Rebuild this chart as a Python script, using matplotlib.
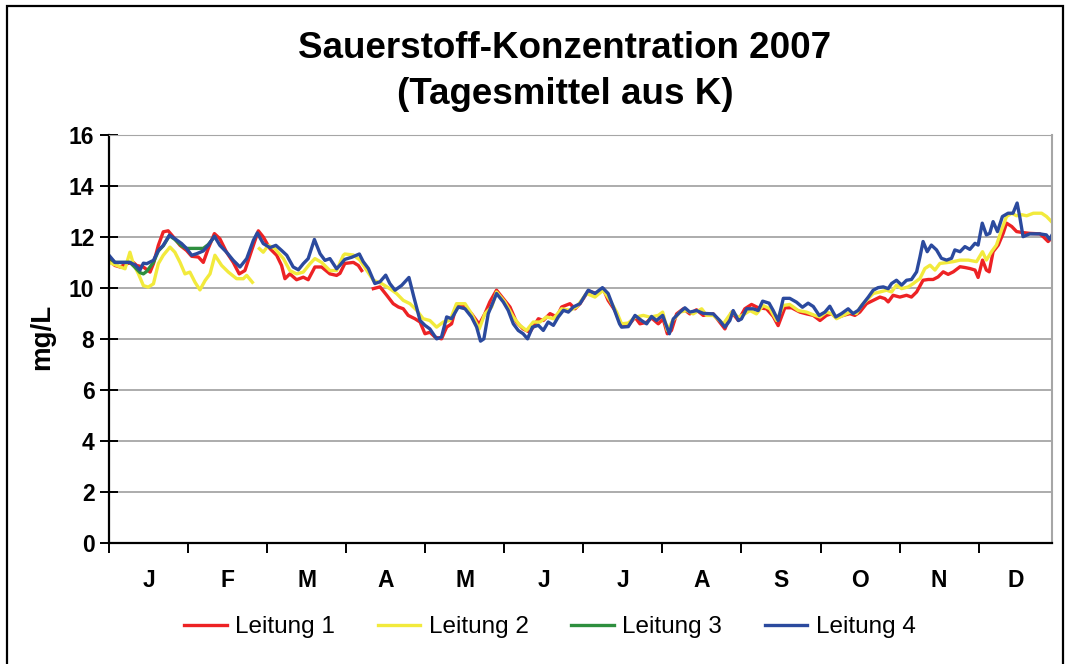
import numpy as np
import matplotlib
matplotlib.use("Agg")
import matplotlib.pyplot as plt
from matplotlib.patches import Rectangle

plt.rcParams['font.family'] = ['Liberation Sans', 'DejaVu Sans']

# Tagesmittel (Tag des Jahres, mg/L); nan = Datenluecke
l1_days = [0, 2.3, 4.3, 6.8, 9.4, 10.7, 13.3, 15.9, 17.2, 19.1, 21.0, 22.9, 24.9, 27.5, 30.0, 32.0, 34.6,
           36.5, 38.4, 40.8, 42.9, 45.5, 48.1, 50.4, 52.6, 55.2, 57.8, 59.7, 62.3, 64.9, 66.8, 68.1, 70.0,
           72.6, 75.2, 77.1, 79.7, 82.3, 85.5, 88.1, 89.4, 91.3, 94.6, 96.5, 97.8, 100.0,
           102.3, 104.9, 107.5, 110.0, 112.0, 113.9, 115.8, 118.4, 120.4, 122.3, 124.2, 126.2, 128.7,
           130.7, 132.6, 134.5, 137.1, 140.3, 143.3, 145.5, 147.4, 150.0, 152.6, 155.2, 157.7, 160.3,
           162.9, 166.2, 168.1, 170.7, 173.3, 175.2, 178.4, 180.4, 182.3, 185.5, 188.7, 191.3, 193.2,
           195.8, 198.4, 201.0, 203.6, 205.5, 208.1, 210.0, 212.6, 214.5, 216.1, 217.7, 219.7, 222.3,
           224.8, 227.4, 230.0, 233.9, 236.4, 238.4, 241.0, 243.6, 246.1, 248.7, 251.3, 254.5, 257.1,
           259.0, 261.6, 264.2, 267.4, 270.0, 272.6, 275.2, 277.7, 279.7, 281.6, 284.2, 286.8, 288.7,
           290.6, 293.2, 295.8, 298.4, 300.3, 301.6, 303.5, 306.1, 308.7, 310.6, 312.6, 315.1, 317.1,
           319.0, 320.9, 322.9, 324.8, 326.8, 329.4, 331.3, 333.2, 335.2, 336.4, 338.1, 339.6, 340.7,
           342.2, 344.2, 346.1, 347.4, 349.4, 351.3, 353.8, 356.4, 360.3, 361.6, 363.5, 364.8]
l1_vals = [11.08, 10.88, 10.82, 10.95, 11.0, 10.88, 10.82, 10.62, 10.95, 11.67, 12.2, 12.24, 12.0, 11.67,
           11.47, 11.24, 11.21, 11.0, 11.54, 12.13, 11.93, 11.4, 11.0, 10.55, 10.68, 11.47, 12.24, 12.0,
           11.54, 11.28, 10.88, 10.36, 10.55, 10.32, 10.42, 10.32, 10.82, 10.82, 10.55, 10.49, 10.57,
           10.96, 11.0, 10.88, 10.68, np.nan,
           9.97, 10.04, 9.71, 9.38, 9.25, 9.18, 8.92, 8.79, 8.66, 8.2, 8.26, 8.07, 8.0,
           8.46, 8.59, 9.32, 9.32, 8.99, 8.57, 8.99, 9.45, 9.91, 9.58, 9.25, 8.66, 8.39,
           8.26, 8.79, 8.72, 8.99, 8.86, 9.25, 9.38, 9.18, 9.38, 9.88, 9.78, 9.97, 9.51,
           9.12, 8.52, 8.52, 8.85, 8.59, 8.65, 8.82, 8.59, 8.78, 8.2, 8.33, 8.98, 9.18,
           8.98, 9.14, 8.92, 8.98, 8.65, 8.39, 9.05, 8.72, 9.18, 9.35, 9.22, 9.18, 8.88,
           8.52, 9.22, 9.22, 9.05, 8.98, 8.92, 8.72, 8.92, 8.99, 8.83, 8.92, 8.99, 8.92,
           9.05, 9.38, 9.51, 9.64, 9.58, 9.45, 9.71, 9.64, 9.71, 9.64, 9.84, 10.3, 10.33,
           10.33, 10.43, 10.63, 10.53, 10.63, 10.83, 10.8, 10.76, 10.7, 10.41, 11.09, 10.7, 10.63,
           11.42, 11.68, 12.14, 12.54, 12.41, 12.21, 12.17, 12.14, 12.12, 12.01, 11.82, 11.95]

l2_days = [0, 3.0, 6.2, 8.1, 9.4, 11.4, 13.3, 15.2, 17.2, 19.1, 21.0, 23.6, 25.5, 27.5, 29.4, 31.3, 33.3,
           35.2, 37.2, 39.1, 41.0, 43.6, 46.2, 49.4, 52.0, 53.3, 55.5, 57.0,
           58.2, 59.7, 61.7, 64.2, 67.5, 70.0, 72.6, 75.2, 77.8, 79.7, 82.3, 85.5, 88.1, 90.7, 91.3,
           94.6, 97.1, 99.7, 102.3, 105.5, 108.7, 111.3, 113.9, 116.5, 119.1, 121.6, 124.2, 126.8,
           129.4, 132.0, 134.5, 137.8, 140.3, 143.3, 145.5, 148.1, 150.0, 153.2, 156.5, 159.0, 161.6,
           164.2, 166.8, 169.4, 172.0, 175.2, 178.4, 181.0, 184.8, 188.1, 191.3, 193.9, 196.5, 198.4,
           201.0, 203.6, 206.8, 209.4, 212.6, 214.3, 216.1, 218.2, 221.0, 223.6, 226.1, 229.4, 231.3,
           233.9, 237.8, 241.0, 243.6, 246.1, 248.1, 250.6, 253.2, 255.8, 258.4, 261.0, 263.5, 266.8,
           270.0, 273.2, 275.2, 277.7, 279.7, 281.6, 284.2, 286.8, 289.3, 291.3, 293.2, 295.8, 298.4,
           301.0, 302.9, 304.8, 306.8, 309.4, 311.3, 313.9, 315.8, 317.8, 319.7, 321.6, 324.2, 326.8,
           329.4, 332.6, 335.8, 338.1, 339.6, 341.6, 343.5, 345.5, 347.4, 349.4, 351.3, 353.3, 355.2,
           357.8, 361.0, 362.9, 364.8]
l2_vals = [11.0, 10.88, 10.75, 11.4, 10.95, 10.55, 10.09, 10.03, 10.16, 10.95, 11.28, 11.6, 11.4, 11.0,
           10.55, 10.62, 10.22, 9.92, 10.29, 10.55, 11.28, 10.88, 10.62, 10.36, 10.36, 10.49, 10.22, np.nan,
           11.54, 11.4, 11.67, 11.54, 11.15, 10.68, 10.55, 10.62, 10.95, 11.15, 11.0, 10.68, 10.68, 11.28,
           11.33, 11.29, 11.09, 10.7, 10.3, 10.17, 9.97, 9.78, 9.51, 9.38, 9.12, 8.79, 8.72, 8.46,
           8.66, 8.72, 9.38, 9.38, 8.99, 8.39, 8.99, 9.25, 9.84, 9.45, 8.86, 8.53, 8.33,
           8.66, 8.66, 8.86, 8.79, 9.18, 9.12, 9.25, 9.78, 9.64, 9.91, 9.51, 9.05, 8.59,
           8.62, 8.85, 8.92, 8.85, 8.92, 9.05, 8.33, 8.72, 9.05, 9.11, 8.98, 9.18, 8.92,
           8.92, 8.59, 9.05, 8.85, 8.98, 9.11, 8.98, 9.31, 9.18, 8.72, 9.31, 9.35, 9.11,
           9.05, 8.92, 8.86, 9.05, 8.99, 8.79, 8.92, 9.05, 8.99, 9.32, 9.51, 9.78, 9.84,
           9.91, 9.84, 10.11, 9.97, 10.04, 10.17, 10.37, 10.76, 10.89, 10.7, 10.96, 10.99, 11.03,
           11.09, 11.09, 11.03, 11.42, 11.09, 11.42, 11.68, 12.28, 12.8, 12.93, 12.83, 12.87, 12.83,
           12.93, 12.93, 12.8, 12.6]

l3_days = [0, 2.3, 8.1, 10.1, 12.0, 13.3, 14.6, 17.2, 19.1, 21.0, 23.4, 25.5, 28.1, 30.0, 32.0, 33.9,
           36.5, 38.4, 40.8]
l3_vals = [11.2, 11.0, 11.0, 10.8, 10.6, 10.55, 10.65, 11.0, 11.45, 11.65, 12.05, 11.9, 11.65, 11.55,
           11.55, 11.55, 11.55, 11.7, 12.0]

l4_days = [0, 2.3, 8.1, 10.1, 12.0, 13.3, 14.6, 17.2, 19.1, 21.0, 23.4, 25.5, 28.1, 30.0, 32.0, 33.9,
           36.5, 38.4, 40.8, 42.9, 45.5, 48.1, 50.7, 53.3, 55.9, 57.4, 59.7, 62.3, 64.6, 66.8, 68.8,
           71.3, 73.3, 75.2, 77.1, 79.5, 81.7, 83.6, 85.5, 88.1, 89.4, 91.3, 93.9, 96.9, 98.4, 100.4,
           102.9, 104.9, 107.1, 108.7, 110.7, 113.3, 116.1, 118.0, 120.4, 122.3, 124.2, 126.8, 128.7,
           130.7, 132.6, 135.2, 137.8, 140.3, 142.3, 143.8, 145.1, 146.8, 148.7, 150.0, 152.6, 154.5,
           156.5, 158.4, 160.3, 162.0, 163.9, 166.2, 168.1, 170.0, 172.0, 173.9, 175.9, 177.8, 179.7,
           182.3, 185.5, 188.1, 191.0, 193.2, 195.2, 197.6, 198.4, 201.0, 203.6, 206.1, 208.1, 210.0,
           211.9, 214.3, 215.5, 216.9, 218.4, 221.0, 222.9, 224.8, 227.4, 230.0, 233.9, 236.4, 238.4,
           240.3, 241.6, 243.6, 244.8, 246.8, 249.3, 251.3, 253.0, 255.5, 257.1, 259.0, 261.0, 263.5,
           266.1, 268.4, 270.6, 272.6, 274.9, 277.1, 279.0, 281.3, 283.5, 286.1, 288.0, 290.0, 291.9,
           293.9, 295.8, 297.7, 299.7, 301.6, 302.9, 304.8, 306.8, 308.7, 310.6, 312.6, 313.9, 315.1,
           316.7, 318.3, 320.3, 322.2, 324.2, 326.1, 327.4, 329.4, 331.3, 333.2, 335.2, 336.4, 338.0,
           339.6, 340.9, 342.2, 343.9, 345.8, 348.0, 349.9, 351.5, 352.5, 353.8, 356.4, 360.3, 362.8,
           364.1, 364.8]
l4_vals = [11.28, 11.0, 11.0, 10.9, 10.7, 10.97, 10.95, 11.08, 11.47, 11.67, 12.07, 11.93, 11.74, 11.55,
           11.28, 11.34, 11.45, 11.67, 12.03, 11.67, 11.4, 11.08, 10.82, 11.15, 11.87, 12.16, 11.74, 11.58,
           11.67, 11.47, 11.28, 10.82, 10.71, 10.95, 11.15, 11.9, 11.34, 11.08, 11.15, 10.75, 10.89,
           11.12, 11.2, 11.33, 11.03, 10.76, 10.17, 10.24, 10.5, 10.17, 9.91, 10.1, 10.41, 9.64, 8.72,
           8.53, 8.39, 8.0, 8.07, 8.86, 8.79, 9.25, 9.18, 8.86, 8.46, 7.91, 8.0, 8.99, 9.45, 9.78,
           9.45, 9.12, 8.59, 8.33, 8.2, 8.0, 8.46, 8.53, 8.33, 8.66, 8.53, 8.86, 9.12, 9.05, 9.25,
           9.38, 9.91, 9.78, 10.01, 9.78, 9.25, 8.59, 8.46, 8.48, 8.92, 8.72, 8.59, 8.88,
           8.72, 8.92, 8.59, 8.2, 8.78, 9.05, 9.22, 9.05, 9.11, 9.0, 8.98, 8.72, 8.46,
           8.72, 9.11, 8.72, 8.78, 9.18, 9.18, 9.11, 9.48, 9.4, 9.11, 8.72, 9.59, 9.59,
           9.44, 9.24, 9.4, 9.27, 8.92, 9.05, 9.28, 8.86, 8.99, 9.18, 8.99, 9.12, 9.38,
           9.64, 9.91, 10.01, 10.04, 9.97, 10.17, 10.3, 10.11, 10.3, 10.33, 10.63, 11.22, 11.82,
           11.42, 11.68, 11.49, 11.16, 11.09, 11.16, 11.49, 11.42, 11.62, 11.51, 11.75, 11.68, 12.54,
           12.08, 12.14, 12.6, 12.21, 12.8, 12.93, 12.93, 13.33, 12.8, 12.01, 12.12, 12.12, 12.08,
           11.91, 12.04]

series = [
    ('Leitung 1', l1_days, l1_vals, '#ED2224'),
    ('Leitung 2', l2_days, l2_vals, '#F2EA3C'),
    ('Leitung 3', l3_days, l3_vals, '#2E8F3E'),
    ('Leitung 4', l4_days, l4_vals, '#2B4A9E'),
]
months = ['J', 'F', 'M', 'A', 'M', 'J', 'J', 'A', 'S', 'O', 'N', 'D']

fig = plt.figure(figsize=(10.67, 6.64), dpi=100)
ax = fig.add_axes([109 / 1067, 121.3 / 664, 943 / 1067, 407.7 / 664])

# Rahmen um das ganze Diagramm
fig.patches.append(Rectangle((7 / 1067, -0.05), 1056 / 1067, 1.05 - 6 / 664, transform=fig.transFigure,
                             fill=False, edgecolor='black', linewidth=1.6))

for name, d, v, c in series:
    ax.plot(d, v, color=c, linewidth=2.4, label=name, solid_joinstyle='round')

ax.set_xlim(0, 365)
ax.set_ylim(0, 16)
ax.set_yticks(np.arange(0, 17, 2))
ax.grid(axis='y', color='#A6A6A6', linewidth=1.3)
ax.set_axisbelow(True)

step = 30.6
major = [i * step for i in range(12)]
edges = major + [365]
mids = [(edges[i] + edges[i + 1]) / 2 for i in range(12)]
ax.set_xticks(major)
ax.set_xticklabels([])
ax.set_xticks(mids, minor=True)
ax.set_xticklabels(months, minor=True, fontsize=16.5, fontweight='bold')
ax.tick_params(axis='x', which='major', direction='out', length=7, width=1.4, color='black')
ax.tick_params(axis='x', which='minor', length=0, pad=19)
ax.tick_params(axis='y', direction='inout', length=13, width=1.4, labelsize=16.5, pad=4)
for lab in ax.get_yticklabels():
    lab.set_fontweight('bold')

ax.spines['left'].set_linewidth(1.6)
ax.spines['bottom'].set_linewidth(1.6)
ax.spines['top'].set_color('#A6A6A6')
ax.spines['right'].set_color('#A6A6A6')
ax.spines['right'].set_linewidth(1.5)

fig.text(42 / 1067, 1 - 337 / 664, 'mg/L', rotation=90, ha='center', va='center',
         fontsize=20, fontweight='bold')

fig.text(565 / 1067, 1 - 48 / 664, 'Sauerstoff-Konzentration 2007', ha='center', va='center',
         fontsize=26.5, fontweight='bold')
fig.text(565 / 1067, 1 - 95 / 664, '(Tagesmittel aus K)', ha='center', va='center',
         fontsize=26.5, fontweight='bold')

fig.legend(loc='center', bbox_to_anchor=(550 / 1067, 1 - 627 / 664), ncol=4, frameon=False,
           fontsize=17.5, handlelength=1.75, handletextpad=0.35, columnspacing=1.75)

fig.savefig('out.png', dpi=100)
